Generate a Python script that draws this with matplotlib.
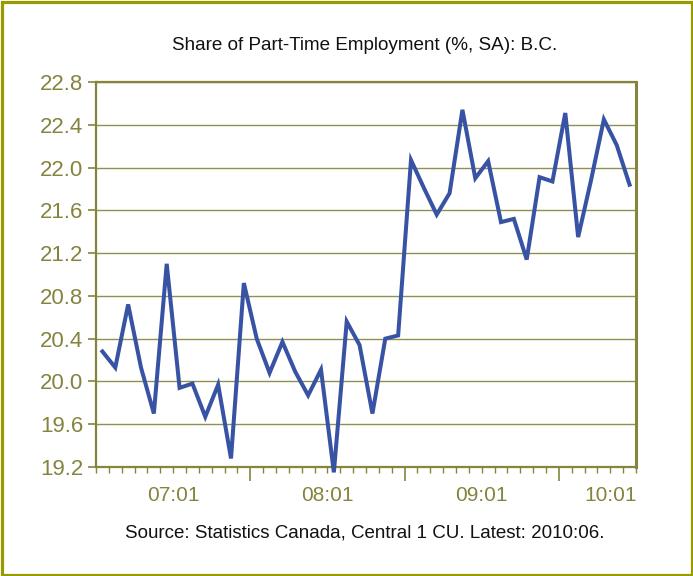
import matplotlib
matplotlib.use("Agg")
import matplotlib.pyplot as plt
from matplotlib.patches import Rectangle
import numpy as np

plt.rcParams['font.family'] = ['Liberation Sans', 'DejaVu Sans']

title = "Share of Part-Time Employment (%, SA): B.C."
source = "Source: Statistics Canada, Central 1 CU. Latest: 2010:06."

# Monthly values, 2007:01 .. 2010:06
values = [20.28, 20.13, 20.72, 20.13, 19.70, 21.10, 19.94, 19.98, 19.67, 19.97,
          19.28, 20.92, 20.40, 20.08, 20.37, 20.09, 19.87, 20.11, 19.15, 20.56,
          20.34, 19.70, 20.40, 20.43, 22.07, 21.81, 21.56, 21.76, 22.54, 21.90,
          22.06, 21.49, 21.52, 21.14, 21.91, 21.87, 22.51, 21.35, 21.88, 22.45,
          22.21, 21.84]
year_labels = ["07:01", "08:01", "09:01", "10:01"]
y_ticks = [19.2, 19.6, 20.0, 20.4, 20.8, 21.2, 21.6, 22.0, 22.4, 22.8]

olive = '#85853c'
text_olive = '#84843f'
frame_col = '#999900'
line_col = '#3953a4'

n = len(values)
x = np.arange(n)

fig = plt.figure(figsize=(6.93, 5.76), dpi=100)
ax = fig.add_axes([96/693, 1 - 467/576, (636 - 96)/693, (467 - 82)/576])

ax.plot(x, values, color=line_col, lw=2.9, clip_on=False, zorder=5,
        solid_joinstyle='miter')

ax.set_xlim(-0.5, n - 0.5)
ax.set_ylim(y_ticks[0], y_ticks[-1])
ax.set_yticks(y_ticks)
ax.set_yticklabels([f"{v:.1f}" for v in y_ticks])
ax.yaxis.grid(True, color='#8f8f50', lw=1.0)
ax.set_axisbelow(True)

for s in ax.spines.values():
    s.set_color(olive)
ax.spines['left'].set_linewidth(1.6)
ax.spines['bottom'].set_linewidth(1.6)
ax.spines['top'].set_linewidth(1.6)
ax.spines['right'].set_linewidth(2.2)

ax.tick_params(axis='y', colors=olive, labelcolor=text_olive, labelsize=16,
               length=6, width=1.2, direction='out', pad=3)

# Category boundaries: minor ticks every month, long ticks between years
bounds = np.arange(-0.5, n, 1.0)
year_bounds = [b for b in bounds if (b + 0.5) % 12 == 0 and 0 < b < n - 1]
ax.set_xticks(year_bounds)
ax.set_xticks(bounds, minor=True)
ax.tick_params(axis='x', which='major', colors=olive, length=10, width=1.2,
               labelbottom=False)
ax.tick_params(axis='x', which='minor', colors=olive, length=4, width=1.0)

# Year labels centred within each year group
label_pos = [min(i + 5.5, n - 2.5) for i in range(0, n, 12)]
sec = ax.secondary_xaxis('bottom')
sec.set_xticks(label_pos)
sec.set_xticklabels(year_labels)
sec.tick_params(length=0, labelsize=15, labelcolor=text_olive, pad=14)
sec.spines['bottom'].set_visible(False)

fig.text(365/693, 1 - 46/576, title, ha='center', va='center', fontsize=13.6,
         color='#111111')
fig.text(365/693, 1 - 533/576, source, ha='center', va='center', fontsize=13.5,
         color='#111111')

fig.patches.append(Rectangle((1.5/693, 1.5/576), 1 - 3/693, 1 - 3/576,
                             transform=fig.transFigure, fill=False,
                             ec=frame_col, lw=2.3))

fig.savefig("out.png", dpi=100)
